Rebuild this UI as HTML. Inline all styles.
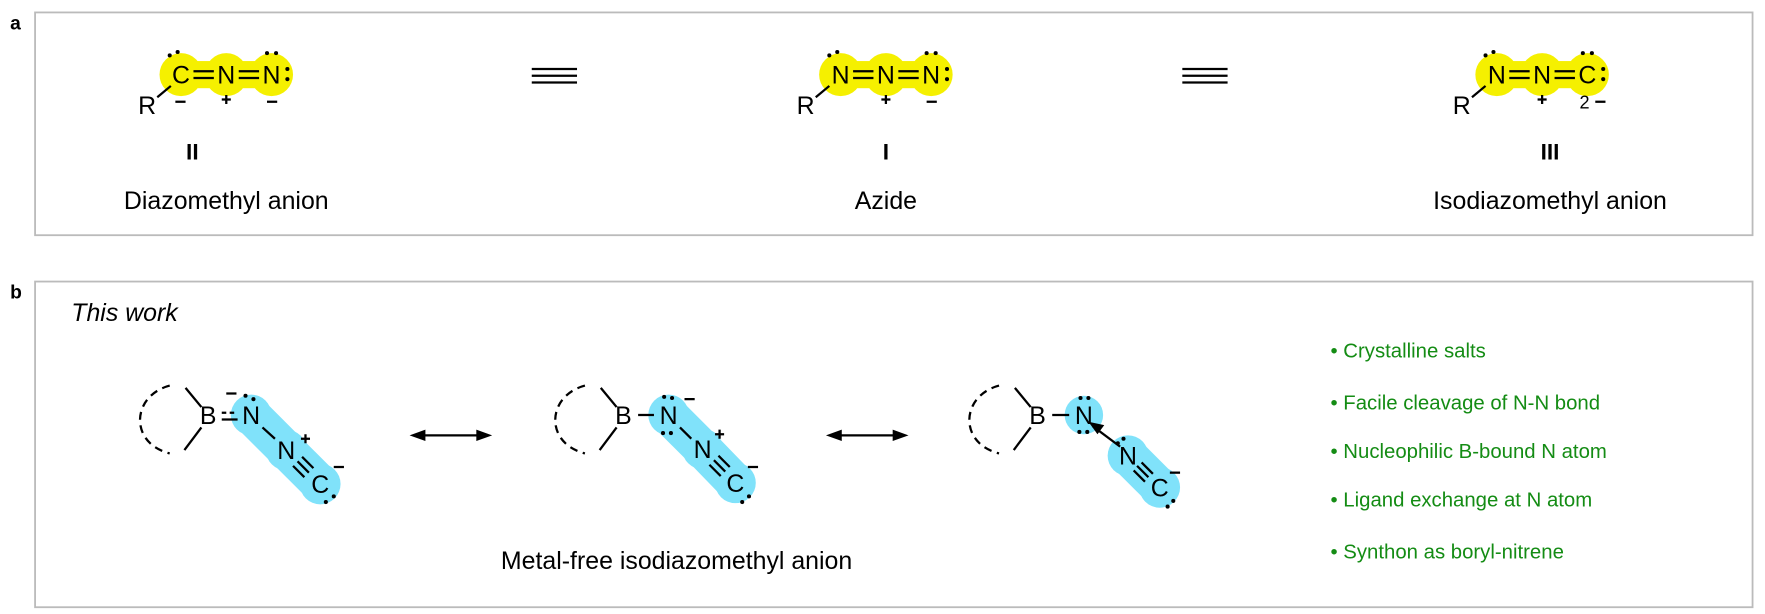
<!DOCTYPE html>
<html><head><meta charset="utf-8"><style>
html,body{margin:0;padding:0;background:#fff;}
svg{display:block;}
text{font-family:"Liberation Sans",Arial,sans-serif;}
</style></head><body>
<svg width="1765" height="614" viewBox="0 0 1560 543" preserveAspectRatio="none" xmlns="http://www.w3.org/2000/svg">
<g fill="none" stroke="#bbb" stroke-width="1.6">
<rect x="31" y="11" width="1518" height="197"/>
<rect x="31" y="249" width="1518" height="288"/>
</g>
<text x="9" y="26" font-size="17" font-weight="bold">a</text>
<text x="9" y="264" font-size="17" font-weight="bold">b</text>

<g fill="#f5f000">
<circle cx="160" cy="66" r="19"/><circle cx="200" cy="66" r="19"/><circle cx="240" cy="66" r="19"/><rect x="160" y="54" width="80" height="24"/>
<circle cx="743" cy="66" r="19"/><circle cx="783" cy="66" r="19"/><circle cx="823" cy="66" r="19"/><rect x="743" y="54" width="80" height="24"/>
<circle cx="1323" cy="66" r="19"/><circle cx="1363" cy="66" r="19"/><circle cx="1403" cy="66" r="19"/><rect x="1323" y="54" width="80" height="24"/>
</g>
<g font-size="22" text-anchor="middle">
<text x="160" y="74">C</text><text x="200" y="74">N</text><text x="240" y="74">N</text>
<text x="743" y="74">N</text><text x="783" y="74">N</text><text x="823" y="74">N</text>
<text x="1323" y="74">N</text><text x="1363" y="74">N</text><text x="1403" y="74">C</text>
<text x="130" y="101">R</text><text x="712" y="101">R</text><text x="1292" y="101">R</text>
</g>
<g stroke="#000" stroke-width="2">
<path d="M171 63H189M171 69H189M211 63H229M211 69H229"/>
<path d="M754 63H772M754 69H772M794 63H812M794 69H812"/>
<path d="M1334 63H1352M1334 69H1352M1374 63H1392M1374 69H1392"/>
<path d="M139 86L151 76M721 86L733 76M1301 86L1313 76"/>
<path d="M470 61H510M470 67H510M470 73H510M1045 61H1085M1045 67H1085M1045 73H1085"/>
<path d="M155 90H164M236 90H245M819 90H828"/>
<path d="M196 88H204M200 84V92M779 88H787M783 84V92M1359 88H1367M1363 84V92M1410 90H1419"/>
</g>
<text x="1405" y="96" font-size="16" text-anchor="end">2</text>
<g fill="#000">
<circle cx="150" cy="49" r="1.8"/><circle cx="157" cy="46" r="1.8"/>
<circle cx="236" cy="47" r="1.8"/><circle cx="244" cy="47" r="1.8"/><circle cx="254" cy="61" r="1.8"/><circle cx="254" cy="70" r="1.8"/>
<circle cx="733" cy="49" r="1.8"/><circle cx="740" cy="46" r="1.8"/>
<circle cx="819" cy="47" r="1.8"/><circle cx="827" cy="47" r="1.8"/><circle cx="837" cy="61" r="1.8"/><circle cx="837" cy="70" r="1.8"/>
<circle cx="1313" cy="49" r="1.8"/><circle cx="1320" cy="46" r="1.8"/>
<circle cx="1399" cy="47" r="1.8"/><circle cx="1407" cy="47" r="1.8"/><circle cx="1417" cy="61" r="1.8"/><circle cx="1417" cy="70" r="1.8"/>
</g>
<g font-size="20" text-anchor="middle" font-weight="bold">
<text x="170" y="141">II</text>
<text x="783" y="141">I</text>
<text x="1370" y="141">III</text>
</g>
<g font-size="22" text-anchor="middle">
<text x="200" y="185">Diazomethyl anion</text>
<text x="783" y="185">Azide</text>
<text x="1370" y="185">Isodiazomethyl anion</text>
</g>

<text x="63" y="284" font-size="22" font-style="italic">This work</text>

<g fill="#80e2fa">
<circle cx="222" cy="367" r="18"/><circle cx="253" cy="398" r="18"/><circle cx="283" cy="428" r="18"/>
<path d="M212 381L243 412L273 442L297 418L267 388L236 357Z"/>
<circle cx="591" cy="367" r="18"/><circle cx="621" cy="397" r="18"/><circle cx="650" cy="427" r="18"/>
<path d="M581 381L611 411L640 441L664 417L635 387L605 357Z"/>
<circle cx="958" cy="367" r="17"/>
<circle cx="997" cy="403" r="18"/><circle cx="1025" cy="431" r="18"/>
<path d="M985 415L1013 443L1037 419L1009 391Z"/>
</g>
<g font-size="22" text-anchor="middle">
<text x="184" y="375">B</text><text x="222" y="375">N</text><text x="253" y="406">N</text><text x="283" y="436">C</text>
<text x="551" y="375">B</text><text x="591" y="375">N</text><text x="621" y="405">N</text><text x="650" y="435">C</text>
<text x="917" y="375">B</text><text x="958" y="375">N</text><text x="997" y="411">N</text><text x="1025" y="439">C</text>
</g>
<g stroke="#000" stroke-width="2" fill="none">
<path d="M164 343L178 360M178 378L163 398"/>
<path d="M150 341C116 350 114 392 150 401" stroke-dasharray="7,5"/>
<path d="M531 343L545 360M545 378L530 398"/>
<path d="M517 341C483 350 481 392 517 401" stroke-dasharray="7,5"/>
<path d="M897 343L911 360M911 378L896 398"/>
<path d="M883 341C849 350 847 392 883 401" stroke-dasharray="7,5"/>
<path d="M196 371H210"/><path d="M196 365H210" stroke-dasharray="4,3"/>
<path d="M232 378L243 388M263 408L273 418M259 412L269 422M267 404L277 414"/>
<path d="M564 367H578"/>
<path d="M601 378L611 388M631 407L641 417M627 411L637 421M635 403L645 413"/>
<path d="M930 367H945"/>
<path d="M990 395L966 377"/>
<path d="M1005 412L1015 422M1002 416L1012 426M1009 409L1019 419"/>
<path d="M200 348H209M266 388H274M270 384V392M295 413H304"/>
<path d="M605 353H614M632 384H640M636 380V388M661 413H670"/>
<path d="M1034 418H1043"/>
<path d="M372 385H425M740 385H793"/>
</g>
<g fill="#000">
<path d="M962 373L976 376L970 384Z"/>
<path d="M362 385L376 380L376 390Z M435 385L421 380L421 390Z"/>
<path d="M730 385L744 380L744 390Z M803 385L789 380L789 390Z"/>
<circle cx="217" cy="350" r="1.8"/><circle cx="224" cy="353" r="1.8"/>
<circle cx="288" cy="444" r="1.8"/><circle cx="295" cy="439" r="1.8"/>
<circle cx="587" cy="351" r="1.8"/><circle cx="594" cy="352" r="1.8"/>
<circle cx="586" cy="383" r="1.8"/><circle cx="593" cy="383" r="1.8"/>
<circle cx="656" cy="444" r="1.8"/><circle cx="662" cy="439" r="1.8"/>
<circle cx="955" cy="352" r="1.8"/><circle cx="962" cy="352" r="1.8"/>
<circle cx="954" cy="382" r="1.8"/><circle cx="961" cy="382" r="1.8"/>
<circle cx="988" cy="392" r="1.8"/><circle cx="993" cy="388" r="1.8"/>
<circle cx="1032" cy="448" r="1.8"/><circle cx="1037" cy="443" r="1.8"/>
</g>
<text x="598" y="503" font-size="22" text-anchor="middle">Metal-free isodiazomethyl anion</text>
<g font-size="18" fill="#148c14">
<text x="1176" y="316">• Crystalline salts</text>
<text x="1176" y="362">• Facile cleavage of N-N bond</text>
<text x="1176" y="405">• Nucleophilic B-bound N atom</text>
<text x="1176" y="448">• Ligand exchange at N atom</text>
<text x="1176" y="494">• Synthon as boryl-nitrene</text>
</g>
</svg>
</body></html>
